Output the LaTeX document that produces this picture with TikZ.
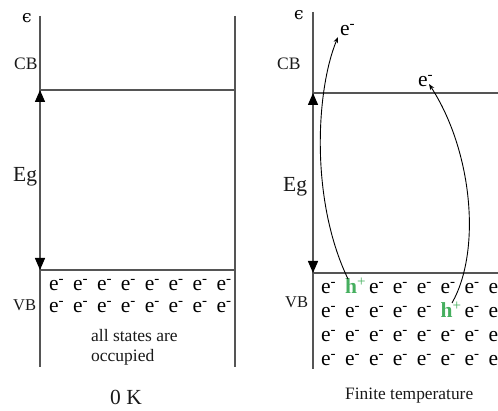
\documentclass[tikz,border=0pt]{standalone}
\usepackage{fontspec}
\setmainfont{Liberation Serif}
\newfontfamily\epsfont{DejaVu Serif}
\usetikzlibrary{arrows.meta}
\definecolor{linegray}{RGB}{85,85,85}
\definecolor{hgreen}{RGB}{70,175,95}
\definecolor{txt}{RGB}{25,25,25}
\begin{document}
\begin{tikzpicture}[x=1pt,y=-1pt,
  frame/.style={draw=linegray, line width=1.4pt},
  gaparrow/.style={draw=linegray, line width=1.4pt,
    {Triangle[length=12pt,width=10pt,fill=black,color=black]}-{Triangle[length=12pt,width=10pt,fill=black,color=black]}},
  jump/.style={draw=black, line width=0.9pt, -{Stealth[length=6pt,width=4.5pt]}},
  lbl/.style={anchor=base west, inner sep=0pt, text=txt},
  epsl/.style={inner sep=0pt, text=black, font=\epsfont\fontsize{17}{17}\selectfont},
  elec/.style={anchor=base west, inner sep=0pt, text=black, font=\fontsize{21.5}{21.5}\selectfont},
  hole/.style={anchor=base west, inner sep=0pt, text=hgreen, font=\fontsize{21.5}{21.5}\selectfont}]
\useasboundingbox (0,0) rectangle (498,411);
\clip (0,0) rectangle (498,411);
% ---------------- left panel ----------------
\coordinate (LT) at (40,16);
\coordinate (LB) at (40,367);
\coordinate (RT) at (235,16);
\coordinate (RB) at (235,367);
\coordinate (cbL) at (40,90);
\coordinate (cbR) at (235,90);
\coordinate (vbL) at (40,270);
\coordinate (vbR) at (235,270);
\draw[frame] (LT) -- (LB);
\draw[frame] (RT) -- (RB);
\draw[frame] (cbL) -- (cbR);
\draw[frame] (vbL) -- (vbR);
\draw[gaparrow] (vbL) -- (cbL);
\node[epsl] (epsL) at (27,18) {ϵ};
\node[lbl, font=\fontsize{17.5}{17.5}\selectfont] (cbLlbl) at (14,70) {CB};
\node[lbl, font=\fontsize{21.5}{21.5}\selectfont] (egL) at (13,182) {Eg};
\node[lbl, font=\fontsize{16.5}{16.5}\selectfont] (vbLlbl) at (13,311) {VB};
\foreach \r/\y in {1/291,2/313}{
  \foreach \c in {0,...,7}{
    \node[elec] (l-\r-\c) at ({49+23.9*\c},\y) {e\textsuperscript{-}};
  }
}
\node[lbl, font=\fontsize{17.5}{17.5}\selectfont] (all) at (91,342) {all states are};
\node[lbl, font=\fontsize{17.5}{17.5}\selectfont] (occ) at (91,362) {occupied};
\node[lbl, font=\fontsize{21.5}{21.5}\selectfont] (zeroK) at (110,405) {0 K};
% ---------------- right panel ----------------
\coordinate (PT) at (313,12);
\coordinate (PB) at (313,369);
\coordinate (cbP) at (313,93);
\coordinate (cbE) at (498,93);
\coordinate (vbP) at (313,273);
\coordinate (vbE) at (498,273);
\draw[frame] (PT) -- (PB);
\draw[frame] (cbP) -- (cbE);
\draw[frame] (vbP) -- (vbE);
\draw[gaparrow] (vbP) -- (cbP);
\node[epsl] (epsR) at (299,15) {ϵ};
\node[lbl, font=\fontsize{17.5}{17.5}\selectfont] (cbRlbl) at (277,70) {CB};
\node[lbl, font=\fontsize{21.5}{21.5}\selectfont] (egR) at (283,192) {Eg};
\node[lbl, font=\fontsize{16.5}{16.5}\selectfont] (vbRlbl) at (285,308) {VB};
\foreach \r/\y in {1/294,2/318,3/342,4/366}{
  \foreach \c in {0,...,7}{
    \pgfmathtruncatemacro{\ishole}{(\r==1 && \c==1) || (\r==2 && \c==5)}
    \ifnum\ishole=1
      \node[hole] (r-\r-\c) at ({321+23.9*\c},\y) {\textbf{h}\textsuperscript{+}};
    \else
      \node[elec] (r-\r-\c) at ({321+23.9*\c},\y) {e\textsuperscript{-}};
    \fi
  }
}
\node[elec] (eup1) at (340,36) {e\textsuperscript{-}};
\node[elec] (eup2) at (418,87) {e\textsuperscript{-}};
\coordinate (j1s) at (348,279);
\coordinate (j1e) at (338,37);
\coordinate (j2s) at (452,303);
\coordinate (j2e) at (429,84);
\draw[jump] (j1s) .. controls (310,200) and (316,90) .. (j1e);
\draw[jump] (j2s) .. controls (482,250) and (472,150) .. (j2e);
\node[lbl, font=\fontsize{17.4}{17.4}\selectfont] (finite) at (345,400) {Finite temperature};
\end{tikzpicture}
\end{document}
